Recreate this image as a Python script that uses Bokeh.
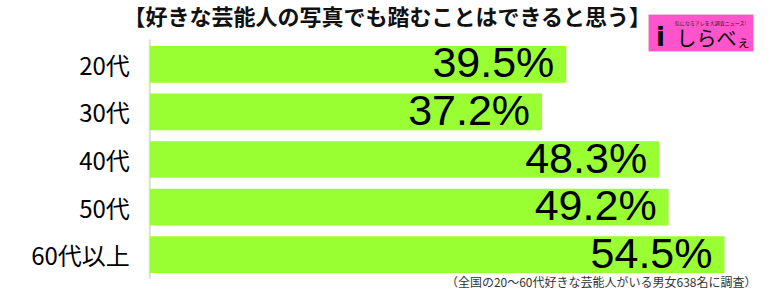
from bokeh.plotting import figure
from bokeh.models import ColumnDataSource, Range1d, Label, BoxAnnotation
from bokeh.embed import file_html
from bokeh.resources import INLINE

categories = ["20代", "30代", "40代", "50代", "60代以上"]
values = [39.5, 37.2, 48.3, 49.2, 54.5]
value_labels = ["39.5%", "37.2%", "48.3%", "49.2%", "54.5%"]
title_text = "【好きな芸能人の写真でも踏むことはできると思う】"
note_text = "（全国の20～60代好きな芸能人がいる男女638名に調査）"

JP = "Noto Sans CJK JP"
W, H = 768, 288

# row index from the top, derived from category order
rows = list(range(len(categories)))
source = ColumnDataSource(dict(cat=categories, val=values, lab=value_labels, row=rows,
                               zero=[0] * len(categories)))

# layout in pixels: bars start at x=149.3, 10.545 px per %, rows 47.6 px apart,
# first row centred 63.8 px from the top
X0, PXPCT = 149.3, 10.545
ROW_PX, ROW0 = 47.6, 63.8
x_range = Range1d(-X0 / PXPCT, (W - X0) / PXPCT)
y_range = Range1d((H - ROW0) / ROW_PX, -ROW0 / ROW_PX)

p = figure(width=W, height=H, output_backend="svg", toolbar_location=None,
           x_range=x_range, y_range=y_range,
           min_border=0, min_border_left=0, min_border_right=0,
           min_border_top=0, min_border_bottom=0, title=None)
p.outline_line_color = None
p.background_fill_color = "white"
p.border_fill_color = "white"
p.grid.visible = False
p.axis.visible = False

# axis line
n = len(categories)
p.segment(x0=[0], x1=[0], y0=[-0.5 - 0.02], y1=[n - 0.5], line_color="#dddddd", line_width=2)

p.hbar(y="row", right="val", left=0, height=0.77, source=source,
       fill_color="#99ff33", line_color=None)

p.text(x="val", y="row", text="lab", source=source, text_align="right",
       text_baseline="middle", x_offset=-12, y_offset=-2,
       text_font={"value": "Liberation Sans"}, text_font_size="43px", text_color="black")

# category labels
p.text(x="zero", y="row", text="cat", source=source, text_align="right",
       text_baseline="middle", x_offset=-20, y_offset=0,
       text_font={"value": JP}, text_font_size="24px", text_color="black")

# Labels in screen units: frame == canvas, y measured from the bottom
p.add_layout(Label(x=387, y=H - 14, x_units="screen", y_units="screen",
                   text=title_text, text_align="center", text_baseline="middle",
                   text_font=JP, text_font_size="22px", text_font_style="bold",
                   text_color="#111111"))

p.add_layout(Label(x=756, y=H - 280.5, x_units="screen", y_units="screen",
                   text=note_text, text_align="right", text_baseline="middle",
                   text_font=JP, text_font_size="12px", text_color="#333333"))

# logo
p.add_layout(BoxAnnotation(left=648, right=753, top=H - 14, bottom=H - 51,
                           left_units="screen", right_units="screen",
                           top_units="screen", bottom_units="screen",
                           fill_color="#ff55cc", fill_alpha=1.0,
                           line_color="#dddddd", line_width=1))
p.add_layout(Label(x=710, y=H - 22, x_units="screen", y_units="screen",
                   text="気になるアレを大調査ニュース!", text_align="center", text_baseline="middle",
                   text_font=JP, text_font_size="5px", text_color="#222222"))
p.add_layout(Label(x=660, y=H - 36, x_units="screen", y_units="screen",
                   text="i", text_align="center", text_baseline="middle",
                   text_font="DejaVu Sans", text_font_size="26px", text_font_style="bold",
                   text_color="black"))
p.add_layout(Label(x=676, y=H - 37, x_units="screen", y_units="screen",
                   text="しらべ", text_align="left", text_baseline="middle",
                   text_font=JP, text_font_size="20px",
                   text_color="black"))
p.add_layout(Label(x=736, y=H - 40, x_units="screen", y_units="screen",
                   text="ぇ", text_align="left", text_baseline="middle",
                   text_font=JP, text_font_size="14px",
                   text_color="black"))

open("out.html", "w").write(file_html(p, INLINE))
